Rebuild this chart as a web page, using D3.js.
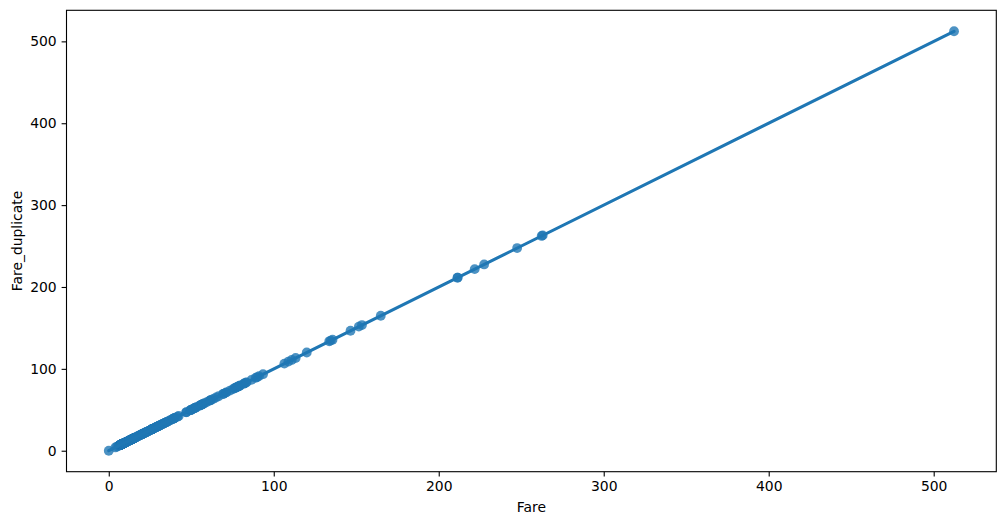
<!DOCTYPE html>
<html>
<head>
<meta charset="utf-8">
<script src="https://cdn.jsdelivr.net/npm/d3@7"></script>
<style>
  html, body { margin: 0; padding: 0; background: #ffffff; }
  svg { display: block; font-family: "DejaVu Sans", sans-serif; }
</style>
</head>
<body>
<svg id="chart" width="1005" height="525"></svg>
<script>
// Unique fare values (Fare == Fare_duplicate)
const fares = [0, 4.0125, 5, 6.2375, 6.4375, 6.45, 6.4958, 6.75, 6.8583, 6.95, 6.975, 7.0458, 7.05, 7.0542,
  7.125, 7.1417, 7.225, 7.2292, 7.25, 7.3125, 7.4958, 7.5208, 7.55, 7.6292, 7.65, 7.725, 7.7292, 7.7333,
  7.7375, 7.7417, 7.75, 7.775, 7.7875, 7.7958, 7.8, 7.8292, 7.8542, 7.875, 7.8875, 7.8958, 7.925, 8.0292,
  8.05, 8.1125, 8.1375, 8.1583, 8.3, 8.4042, 8.4333, 8.4583, 8.5167, 8.6542, 8.6625, 8.6833, 8.7125, 8.85,
  9, 9.2167, 9.225, 9.35, 9.475, 9.4833, 9.5, 9.5875, 9.825, 9.8375, 9.8417, 9.8458, 10.1708, 10.4625,
  10.5, 10.5167, 11.1333, 11.2417, 11.5, 12, 12.275, 12.2875, 12.35, 12.475, 12.525, 12.65, 12.875, 13,
  13.4167, 13.5, 13.7917, 13.8583, 13.8625, 14, 14.1083, 14.4, 14.4542, 14.4583, 14.5, 15, 15.0458, 15.05,
  15.1, 15.2458, 15.5, 15.55, 15.7417, 15.75, 15.85, 15.9, 16, 16.1, 16.7, 17.4, 17.8, 18, 18.75, 18.7875,
  19.2583, 19.5, 19.9667, 20.2125, 20.25, 20.525, 20.575, 21, 21.075, 21.6792, 22.025, 22.3583, 22.525, 23,
  23.25, 23.45, 24, 24.15, 25.4667, 25.5875, 25.925, 25.9292, 26, 26.25, 26.2833, 26.2875, 26.3875, 26.55,
  27, 27.7208, 27.75, 27.9, 28.5, 28.7125, 29, 29.125, 29.7, 30, 30.0708, 30.5, 30.6958, 31, 31.275,
  31.3875, 32.3208, 32.5, 33, 33.5, 34.0208, 34.375, 34.6542, 35, 35.5, 36.75, 37.0042, 38.5, 39, 39.4,
  39.6, 39.6875, 40.125, 41.5792, 42.4, 46.9, 47.1, 49.5, 49.5042, 50, 50.4958, 51.4792, 51.8625, 52,
  52.5542, 53.1, 55, 55.4417, 55.9, 56.4958, 56.9292, 57, 57.9792, 59.4, 61.175, 61.3792, 61.9792,
  63.3583, 65, 66.6, 69.3, 69.55, 71, 71.2833, 73.5, 75.25, 76.2917, 76.7292, 77.2875, 77.9583, 78.2667,
  78.85, 79.2, 79.65, 81.8583, 82.1708, 83.1583, 83.475, 86.5, 89.1042, 90, 91.0792, 93.5, 106.425, 108.9,
  110.8833, 113.275, 120, 133.65, 134.5, 135.6333, 146.5208, 151.55, 153.4625, 164.8667, 211.3375, 211.5,
  221.7792, 227.525, 247.5208, 262.375, 263, 512.3292];
const fareDuplicate = fares.slice();

const xTicks = [0, 100, 200, 300, 400, 500];
const yTicks = [0, 100, 200, 300, 400, 500];
const xLabel = "Fare";
const yLabel = "Fare_duplicate";

(function () {
const svg = d3.select("#chart");
const mLeft = 66.5, mRight = 996.3, mTop = 10.3, mBottom = 471.7;
const color = "#1f77b4";

const xmin = d3.min(fares), xmax = d3.max(fares);
const xpad = (xmax - xmin) * 0.05;
const ymin = d3.min(fareDuplicate), ymax = d3.max(fareDuplicate);
const ypad = (ymax - ymin) * 0.05;

const x = d3.scaleLinear().domain([xmin - xpad, xmax + xpad]).range([mLeft, mRight]);
const y = d3.scaleLinear().domain([ymin - ypad, ymax + ypad]).range([mBottom, mTop]);

// regression fit
const n = fares.length;
const mx = d3.mean(fares), my = d3.mean(fareDuplicate);
let sxy = 0, sxx = 0;
for (let i = 0; i < n; i++) { sxy += (fares[i]-mx)*(fareDuplicate[i]-my); sxx += (fares[i]-mx)**2; }
const slope = sxy / sxx, intercept = my - slope * mx;

svg.append("clipPath").attr("id", "clip").append("rect")
  .attr("x", mLeft).attr("y", mTop).attr("width", mRight-mLeft).attr("height", mBottom-mTop);

const plot = svg.append("g").attr("clip-path", "url(#clip)");

plot.selectAll("circle").data(fares).enter().append("circle")
  .attr("cx", d => x(d))
  .attr("cy", (d, i) => y(fareDuplicate[i]))
  .attr("r", 4.9)
  .attr("fill", color)
  .attr("fill-opacity", 0.8);

plot.append("line")
  .attr("x1", x(xmin)).attr("y1", y(intercept + slope*xmin))
  .attr("x2", x(xmax)).attr("y2", y(intercept + slope*xmax))
  .attr("stroke", color).attr("stroke-width", 3.1).attr("stroke-linecap", "round");

const xAxis = svg.append("g").attr("transform", `translate(0,${mBottom})`)
  .call(d3.axisBottom(x).tickValues(xTicks).tickFormat(d3.format("d")).tickSizeOuter(0).tickSize(4.9).tickPadding(4.9));
const yAxis = svg.append("g").attr("transform", `translate(${mLeft},0)`)
  .call(d3.axisLeft(y).tickValues(yTicks).tickFormat(d3.format("d")).tickSizeOuter(0).tickSize(4.9).tickPadding(4.9));
[xAxis, yAxis].forEach(a => {
  a.select(".domain").remove();
  a.selectAll(".tick line").attr("stroke", "#000").attr("stroke-width", 1.1);
  a.selectAll(".tick text").attr("fill", "#000").style("font-size", "13.9px").style("font-family", "DejaVu Sans, sans-serif");
});

svg.append("rect").attr("x", mLeft).attr("y", mTop).attr("width", mRight-mLeft).attr("height", mBottom-mTop)
  .attr("fill", "none").attr("stroke", "#000").attr("stroke-width", 1.1);

svg.append("text").attr("x", (mLeft+mRight)/2).attr("y", 512.3).attr("text-anchor", "middle")
  .style("font-size", "13.9px").attr("fill", "#000").text(xLabel);
svg.append("text").attr("transform", `translate(22,${(mTop+mBottom)/2}) rotate(-90)`).attr("text-anchor", "middle")
  .style("font-size", "13.9px").attr("fill", "#000").text(yLabel);
})();
</script>
</body>
</html>
